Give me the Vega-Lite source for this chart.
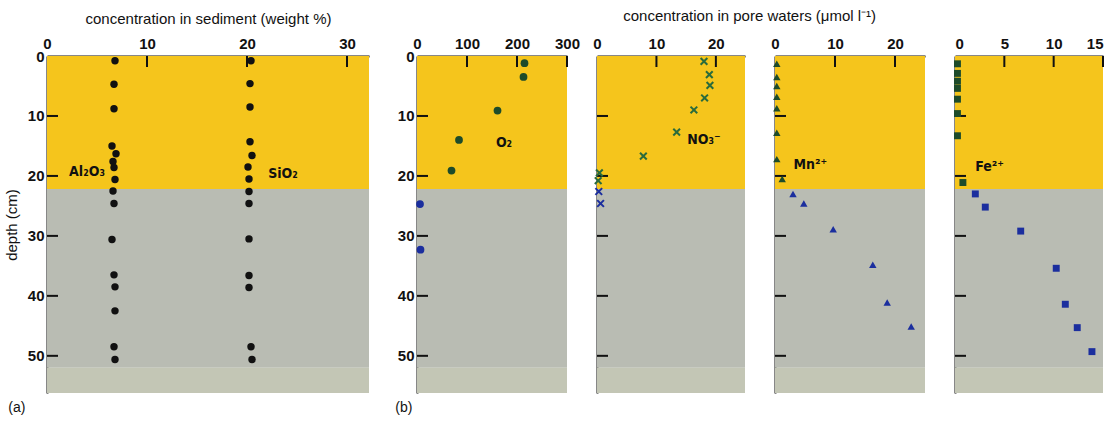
{
  "$schema": "https://vega.github.io/schema/vega-lite/v6.json",
  "background": "white",
  "padding": {"left": 4, "top": 9, "right": 0, "bottom": 5},
  "config": {
    "view": {"stroke": null},
    "font": "Liberation Sans, sans-serif",
    "axis": {
      "zindex": 1,
      "domainColor": "#111",
      "domainWidth": 2,
      "ticks": false,
      "tickSize": 0,
      "grid": false,
      "labelFontSize": 15,
      "labelFontWeight": "bold",
      "labelColor": "#111",
      "labelFlush": false,
      "labelFont": "Liberation Sans, sans-serif",
      "titleFont": "Liberation Sans, sans-serif",
      "titleFontSize": 15,
      "titleFontWeight": "normal",
      "titleColor": "#111"
    },
    "axisX": {"labelPadding": 5},
    "axisY": {"labelPadding": 3},
    "title": {"font": "Liberation Sans, sans-serif", "fontSize": 15, "fontWeight": "normal", "color": "#111"}
  },
  "datasets": {
    "bands": [
      {"zone": "oxic", "depth": 0, "depth2": 22.2},
      {"zone": "anoxic", "depth": 22.2, "depth2": 52},
      {"zone": "deep", "depth": 52, "depth2": 56.2}
    ],
    "yticks": [
      {"depth": 10}, {"depth": 20}, {"depth": 30}, {"depth": 40}, {"depth": 50}
    ],
    "xticks": [
      {"panel": "a", "value": 10}, {"panel": "a", "value": 20}, {"panel": "a", "value": 30},
      {"panel": "o2", "value": 100}, {"panel": "o2", "value": 200}, {"panel": "o2", "value": 300},
      {"panel": "no3", "value": 10}, {"panel": "no3", "value": 20},
      {"panel": "mn", "value": 10}, {"panel": "mn", "value": 20},
      {"panel": "fe", "value": 5}, {"panel": "fe", "value": 10}, {"panel": "fe", "value": 15}
    ],
    "sediment": [
      {"species": "Al2O3", "value": 6.8, "depth": 0.8},
      {"species": "Al2O3", "value": 6.7, "depth": 4.7},
      {"species": "Al2O3", "value": 6.7, "depth": 8.8},
      {"species": "Al2O3", "value": 6.5, "depth": 15.0},
      {"species": "Al2O3", "value": 6.9, "depth": 16.3},
      {"species": "Al2O3", "value": 6.6, "depth": 17.6},
      {"species": "Al2O3", "value": 6.7, "depth": 18.6},
      {"species": "Al2O3", "value": 6.8, "depth": 20.6},
      {"species": "Al2O3", "value": 6.6, "depth": 22.5},
      {"species": "Al2O3", "value": 6.7, "depth": 24.6},
      {"species": "Al2O3", "value": 6.5, "depth": 30.6},
      {"species": "Al2O3", "value": 6.7, "depth": 36.5},
      {"species": "Al2O3", "value": 6.8, "depth": 38.5},
      {"species": "Al2O3", "value": 6.8, "depth": 42.5},
      {"species": "Al2O3", "value": 6.7, "depth": 48.5},
      {"species": "Al2O3", "value": 6.8, "depth": 50.6},
      {"species": "SiO2", "value": 20.4, "depth": 0.8},
      {"species": "SiO2", "value": 20.3, "depth": 4.6},
      {"species": "SiO2", "value": 20.3, "depth": 8.5},
      {"species": "SiO2", "value": 20.3, "depth": 14.3},
      {"species": "SiO2", "value": 20.5, "depth": 16.6},
      {"species": "SiO2", "value": 20.1, "depth": 18.5},
      {"species": "SiO2", "value": 20.2, "depth": 20.5},
      {"species": "SiO2", "value": 20.2, "depth": 22.6},
      {"species": "SiO2", "value": 20.2, "depth": 24.6},
      {"species": "SiO2", "value": 20.2, "depth": 30.5},
      {"species": "SiO2", "value": 20.2, "depth": 36.6},
      {"species": "SiO2", "value": 20.2, "depth": 38.6},
      {"species": "SiO2", "value": 20.4, "depth": 48.5},
      {"species": "SiO2", "value": 20.5, "depth": 50.6}
    ],
    "o2": [
      {"value": 215, "depth": 1.2},
      {"value": 213, "depth": 3.5},
      {"value": 161, "depth": 9.1},
      {"value": 84, "depth": 14.0},
      {"value": 69, "depth": 19.1},
      {"value": 6, "depth": 24.7},
      {"value": 7, "depth": 32.3}
    ],
    "no3": [
      {"value": 18.0, "depth": 0.9},
      {"value": 18.9, "depth": 3.1},
      {"value": 19.0, "depth": 4.9},
      {"value": 18.1, "depth": 7.0},
      {"value": 16.3, "depth": 9.0},
      {"value": 13.4, "depth": 12.7},
      {"value": 7.8, "depth": 16.7},
      {"value": 0.4, "depth": 19.5},
      {"value": 0.2, "depth": 20.8},
      {"value": 0.3, "depth": 22.6},
      {"value": 0.6, "depth": 24.6}
    ],
    "mn": [
      {"value": 0.3, "depth": 1.3},
      {"value": 0.3, "depth": 3.5},
      {"value": 0.3, "depth": 5.0},
      {"value": 0.3, "depth": 6.8},
      {"value": 0.3, "depth": 8.7},
      {"value": 0.3, "depth": 12.8},
      {"value": 0.3, "depth": 17.2},
      {"value": 1.2, "depth": 20.5},
      {"value": 3.0, "depth": 23.0},
      {"value": 4.8, "depth": 24.6},
      {"value": 9.7, "depth": 28.9},
      {"value": 16.3, "depth": 34.8},
      {"value": 18.7, "depth": 41.1},
      {"value": 22.7, "depth": 45.1}
    ],
    "fe": [
      {"value": 0.25, "depth": 1.3},
      {"value": 0.25, "depth": 2.9},
      {"value": 0.25, "depth": 4.2},
      {"value": 0.25, "depth": 5.4},
      {"value": 0.25, "depth": 7.2},
      {"value": 0.25, "depth": 9.6},
      {"value": 0.25, "depth": 13.3},
      {"value": 0.8, "depth": 21.1},
      {"value": 2.06, "depth": 23.0},
      {"value": 3.07, "depth": 25.2},
      {"value": 6.66, "depth": 29.2},
      {"value": 10.26, "depth": 35.4},
      {"value": 11.18, "depth": 41.4},
      {"value": 12.39, "depth": 45.3},
      {"value": 13.88, "depth": 49.3}
    ],
    "labels": [
      {"panel": "a", "label": "Al₂O₃", "value": 4.0, "depth": 19.4},
      {"panel": "a", "label": "SiO₂", "value": 23.6, "depth": 19.7},
      {"panel": "o2", "label": "O₂", "value": 174, "depth": 14.5},
      {"panel": "no3", "label": "NO₃⁻", "value": 18.0, "depth": 14.0},
      {"panel": "mn", "label": "Mn²⁺", "value": 5.9, "depth": 18.2},
      {"panel": "fe", "label": "Fe²⁺", "value": 3.5, "depth": 18.5}
    ]
  },
  "bounds": "flush",
  "spacing": 48,
  "hconcat": [
    {
      "width": 322,
      "height": 337,
      "title": {"text": "(a)", "orient": "bottom", "anchor": "start", "frame": "bounds", "offset": 8, "dx": 4, "fontSize": 14},
      "layer": [
        {
          "data": {"name": "bands"},
          "mark": {"type": "rect"},
          "encoding": {
            "x": {"value": 0},
            "x2": {"value": "width"},
            "y": {"field": "depth", "type": "quantitative", "scale": {"domain": [0, 56.2], "reverse": true, "nice": false, "zero": false}, "axis": {"title": "depth (cm)", "values": [0, 10, 20, 30, 40, 50], "titlePadding": 8}},
            "y2": {"field": "depth2"},
            "fill": {"field": "zone", "type": "nominal", "scale": {"domain": ["oxic", "anoxic", "deep"], "range": ["#F5C51C", "#B9BCB3", "#C3C6B5"]}, "legend": null}
          }
        },
        {
          "data": {"name": "yticks"},
          "mark": {"type": "rule", "color": "#111", "strokeWidth": 2},
          "encoding": {"y": {"field": "depth", "type": "quantitative"}, "x": {"value": 0}, "x2": {"value": 11}}
        },
        {
          "data": {"name": "xticks"},
          "transform": [{"filter": "datum.panel == 'a'"}],
          "mark": {"type": "rule", "color": "#111", "strokeWidth": 2},
          "encoding": {"x": {"field": "value", "type": "quantitative"}, "y": {"value": 0}, "y2": {"value": 11}}
        },
        {
          "data": {"name": "sediment"},
          "mark": {"type": "circle", "size": 55, "opacity": 1, "color": "#111"},
          "encoding": {
            "x": {"field": "value", "type": "quantitative", "scale": {"domain": [0, 32.2], "nice": false}, "axis": {"orient": "top", "values": [0, 10, 20, 30], "title": "concentration in sediment (weight %)", "titlePadding": 10}},
            "y": {"field": "depth", "type": "quantitative"}
          }
        },
        {
          "data": {"name": "labels"},
          "transform": [{"filter": "datum.panel == 'a'"}],
          "mark": {"type": "text", "font": "DejaVu Sans Condensed, DejaVu Sans", "fontSize": 14, "fontWeight": "bold", "color": "#111", "align": "center", "baseline": "middle"},
          "encoding": {
            "x": {"field": "value", "type": "quantitative"},
            "y": {"field": "depth", "type": "quantitative"},
            "text": {"field": "label"}
          }
        }
      ]
    },
    {
      "title": {"text": "concentration in pore waters (μmol l⁻¹)", "anchor": "middle", "offset": 12},
      "bounds": "flush",
      "spacing": 30,
      "hconcat": [
        {
          "width": 150,
          "height": 337,
          "title": {"text": "(b)", "orient": "bottom", "anchor": "start", "frame": "bounds", "offset": 8, "dx": -2, "fontSize": 14},
          "layer": [
            {
              "data": {"name": "bands"},
              "mark": {"type": "rect"},
              "encoding": {
                "x": {"value": 0},
                "x2": {"value": "width"},
                "y": {"field": "depth", "type": "quantitative", "scale": {"domain": [0, 56.2], "reverse": true, "nice": false, "zero": false}, "axis": {"title": null, "values": [0, 10, 20, 30, 40, 50]}},
                "y2": {"field": "depth2"},
                "fill": {"field": "zone", "type": "nominal", "scale": {"domain": ["oxic", "anoxic", "deep"], "range": ["#F5C51C", "#B9BCB3", "#C3C6B5"]}, "legend": null}
              }
            },
            {
              "data": {"name": "yticks"},
              "mark": {"type": "rule", "color": "#111", "strokeWidth": 2},
              "encoding": {"y": {"field": "depth", "type": "quantitative"}, "x": {"value": 0}, "x2": {"value": 11}}
            },
            {
              "data": {"name": "xticks"},
              "transform": [{"filter": "datum.panel == 'o2'"}],
              "mark": {"type": "rule", "color": "#111", "strokeWidth": 2},
              "encoding": {"x": {"field": "value", "type": "quantitative"}, "y": {"value": 0}, "y2": {"value": 11}}
            },
            {
              "data": {"name": "o2"},
              "mark": {"type": "circle", "size": 60, "opacity": 1},
              "encoding": {
                "x": {"field": "value", "type": "quantitative", "scale": {"domain": [0, 300], "nice": false}, "axis": {"orient": "top", "values": [0, 100, 200, 300], "title": null}},
                "y": {"field": "depth", "type": "quantitative"},
                "color": {"condition": {"test": "datum.depth > 22.2", "value": "#1B2E9E"}, "value": "#1D4B2A"}
              }
            },
            {
              "data": {"name": "labels"},
              "transform": [{"filter": "datum.panel == 'o2'"}],
              "mark": {"type": "text", "font": "DejaVu Sans Condensed, DejaVu Sans", "fontSize": 14, "fontWeight": "bold", "color": "#111", "align": "center", "baseline": "middle"},
              "encoding": {
                "x": {"field": "value", "type": "quantitative"},
                "y": {"field": "depth", "type": "quantitative"},
                "text": {"field": "label"}
              }
            }
          ]
        },
        {
          "width": 148,
          "height": 337,
          "layer": [
            {
              "data": {"name": "bands"},
              "mark": {"type": "rect"},
              "encoding": {
                "x": {"value": 0},
                "x2": {"value": "width"},
                "y": {"field": "depth", "type": "quantitative", "scale": {"domain": [0, 56.2], "reverse": true, "nice": false, "zero": false}, "axis": {"title": null, "labels": false}},
                "y2": {"field": "depth2"},
                "fill": {"field": "zone", "type": "nominal", "scale": {"domain": ["oxic", "anoxic", "deep"], "range": ["#F5C51C", "#B9BCB3", "#C3C6B5"]}, "legend": null}
              }
            },
            {
              "data": {"name": "yticks"},
              "mark": {"type": "rule", "color": "#111", "strokeWidth": 2},
              "encoding": {"y": {"field": "depth", "type": "quantitative"}, "x": {"value": 0}, "x2": {"value": 11}}
            },
            {
              "data": {"name": "xticks"},
              "transform": [{"filter": "datum.panel == 'no3'"}],
              "mark": {"type": "rule", "color": "#111", "strokeWidth": 2},
              "encoding": {"x": {"field": "value", "type": "quantitative"}, "y": {"value": 0}, "y2": {"value": 11}}
            },
            {
              "data": {"name": "no3"},
              "mark": {"type": "point", "shape": "M-1,-1L1,1M-1,1L1,-1", "size": 45, "filled": false, "strokeWidth": 2, "opacity": 1},
              "encoding": {
                "x": {"field": "value", "type": "quantitative", "scale": {"domain": [0, 24.9], "nice": false}, "axis": {"orient": "top", "values": [0, 10, 20], "title": null}},
                "y": {"field": "depth", "type": "quantitative"},
                "color": {"condition": {"test": "datum.depth > 22.2", "value": "#1B2E9E"}, "value": "#2A6B3C"}
              }
            },
            {
              "data": {"name": "labels"},
              "transform": [{"filter": "datum.panel == 'no3'"}],
              "mark": {"type": "text", "font": "DejaVu Sans Condensed, DejaVu Sans", "fontSize": 14, "fontWeight": "bold", "color": "#111", "align": "center", "baseline": "middle"},
              "encoding": {
                "x": {"field": "value", "type": "quantitative"},
                "y": {"field": "depth", "type": "quantitative"},
                "text": {"field": "label"}
              }
            }
          ]
        },
        {
          "width": 150,
          "height": 337,
          "layer": [
            {
              "data": {"name": "bands"},
              "mark": {"type": "rect"},
              "encoding": {
                "x": {"value": 0},
                "x2": {"value": "width"},
                "y": {"field": "depth", "type": "quantitative", "scale": {"domain": [0, 56.2], "reverse": true, "nice": false, "zero": false}, "axis": {"title": null, "labels": false}},
                "y2": {"field": "depth2"},
                "fill": {"field": "zone", "type": "nominal", "scale": {"domain": ["oxic", "anoxic", "deep"], "range": ["#F5C51C", "#B9BCB3", "#C3C6B5"]}, "legend": null}
              }
            },
            {
              "data": {"name": "yticks"},
              "mark": {"type": "rule", "color": "#111", "strokeWidth": 2},
              "encoding": {"y": {"field": "depth", "type": "quantitative"}, "x": {"value": 0}, "x2": {"value": 11}}
            },
            {
              "data": {"name": "xticks"},
              "transform": [{"filter": "datum.panel == 'mn'"}],
              "mark": {"type": "rule", "color": "#111", "strokeWidth": 2},
              "encoding": {"x": {"field": "value", "type": "quantitative"}, "y": {"value": 0}, "y2": {"value": 11}}
            },
            {
              "data": {"name": "mn"},
              "mark": {"type": "point", "shape": "triangle-up", "size": 55, "filled": true, "opacity": 1},
              "encoding": {
                "x": {"field": "value", "type": "quantitative", "scale": {"domain": [0, 25], "nice": false}, "axis": {"orient": "top", "values": [0, 10, 20], "title": null}},
                "y": {"field": "depth", "type": "quantitative"},
                "color": {"condition": {"test": "datum.depth > 22.2", "value": "#1B2E9E"}, "value": "#1D4B2A"}
              }
            },
            {
              "data": {"name": "labels"},
              "transform": [{"filter": "datum.panel == 'mn'"}],
              "mark": {"type": "text", "font": "DejaVu Sans Condensed, DejaVu Sans", "fontSize": 14, "fontWeight": "bold", "color": "#111", "align": "center", "baseline": "middle"},
              "encoding": {
                "x": {"field": "value", "type": "quantitative"},
                "y": {"field": "depth", "type": "quantitative"},
                "text": {"field": "label"}
              }
            }
          ]
        },
        {
          "width": 148,
          "height": 337,
          "layer": [
            {
              "data": {"name": "bands"},
              "mark": {"type": "rect"},
              "encoding": {
                "x": {"value": 0},
                "x2": {"value": "width"},
                "y": {"field": "depth", "type": "quantitative", "scale": {"domain": [0, 56.2], "reverse": true, "nice": false, "zero": false}, "axis": {"title": null, "labels": false}},
                "y2": {"field": "depth2"},
                "fill": {"field": "zone", "type": "nominal", "scale": {"domain": ["oxic", "anoxic", "deep"], "range": ["#F5C51C", "#B9BCB3", "#C3C6B5"]}, "legend": null}
              }
            },
            {
              "data": {"name": "yticks"},
              "mark": {"type": "rule", "color": "#111", "strokeWidth": 2},
              "encoding": {"y": {"field": "depth", "type": "quantitative"}, "x": {"value": 0}, "x2": {"value": 11}}
            },
            {
              "data": {"name": "xticks"},
              "transform": [{"filter": "datum.panel == 'fe'"}],
              "mark": {"type": "rule", "color": "#111", "strokeWidth": 2},
              "encoding": {"x": {"field": "value", "type": "quantitative"}, "y": {"value": 0}, "y2": {"value": 11}}
            },
            {
              "data": {"name": "fe"},
              "mark": {"type": "square", "size": 48, "opacity": 1},
              "encoding": {
                "x": {"field": "value", "type": "quantitative", "scale": {"domain": [0, 15], "nice": false}, "axis": {"orient": "top", "values": [0, 5, 10, 15], "title": null, "labelFlush": true}},
                "y": {"field": "depth", "type": "quantitative"},
                "color": {"condition": {"test": "datum.depth > 22.2", "value": "#1B2E9E"}, "value": "#1D4B2A"}
              }
            },
            {
              "data": {"name": "labels"},
              "transform": [{"filter": "datum.panel == 'fe'"}],
              "mark": {"type": "text", "font": "DejaVu Sans Condensed, DejaVu Sans", "fontSize": 14, "fontWeight": "bold", "color": "#111", "align": "center", "baseline": "middle"},
              "encoding": {
                "x": {"field": "value", "type": "quantitative"},
                "y": {"field": "depth", "type": "quantitative"},
                "text": {"field": "label"}
              }
            }
          ]
        }
      ]
    }
  ]
}
